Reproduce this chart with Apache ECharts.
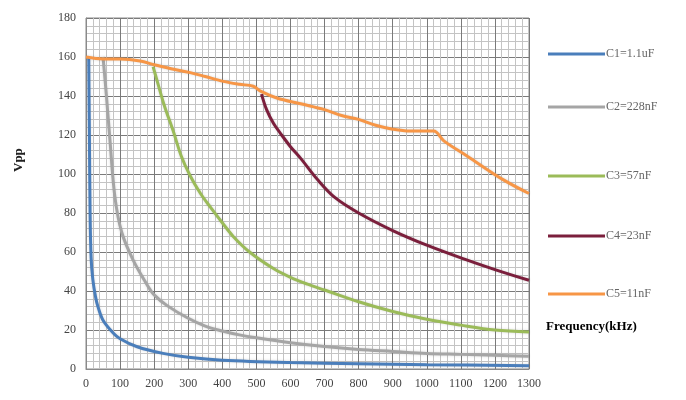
<!DOCTYPE html>
<html><head><meta charset="utf-8">
<script src="https://cdn.jsdelivr.net/npm/echarts@6/dist/echarts.min.js"></script>
<style>html,body{margin:0;padding:0;background:#fff}#c{width:686px;height:400px}</style>
</head><body><div id="c"></div>
<script>
const seriesNames = ["C1=1.1uF", "C2=228nF", "C3=57nF", "C4=23nF", "C5=11nF"];
const c1 = [[8,160],[10,120],[12,80],[15,57],[20,46],[28,37],[35,32],[50,25],[79,18.6],[100,15.5],[150,11.4],[226,8],[300,6],[400,4.5],[600,3.3],[800,2.7],[1000,2.2],[1300,1.7]];
const c2 = [[50,160],[60,140],[70,118],[85,88],[105,70],[138,56],[180,43],[200,38],[238,32.5],[300,26],[350,22],[400,19.5],[450,17.5],[500,16],[600,13.5],[700,11.5],[800,10],[900,9],[1000,8],[1100,7.5],[1200,7],[1300,6.5]];
const c3 = [[197,155],[210,147],[230,135],[256,122],[280,109],[306,99],[336,90],[365,83],[400,75],[432,68],[480,60],[550,51.5],[600,47],[650,43.5],[700,40.5],[800,34.5],[900,29.5],[1000,25.5],[1100,22.5],[1200,20],[1300,19]];
const c4 = [[515,141],[530,133],[550,126],[570,121],[600,114],[630,108],[680,97],[730,88],[800,80],[900,71],[1000,63.5],[1100,57],[1200,51],[1300,45.5]];
const c5 = [[0,160],[50,159],[100,159],[159,158],[200,156],[250,154],[306,152],[350,150],[403,147.5],[450,146],[491,145],[512,142.5],[560,139],[630,136],[700,133],[750,130],[800,128],[850,125],[900,123],[950,122],[1020,122],[1050,117],[1120,109],[1220,97.5],[1300,90]];
const xTicks = {min:0, max:1300, step:100};
const yTicks = {min:0, max:180, step:20};
const colors = ['#4a7ebb','#a5a5a5','#9bbb59','#7b1f3c','#f79646'];
const allData = [c1,c2,c3,c4,c5];
const legendTops = [43, 96, 165, 225, 283];
const serif = "'Liberation Serif', 'DejaVu Serif', serif";

const chart = echarts.init(document.getElementById('c'), null, {renderer:'canvas'});
chart.setOption({
  animation:false,
  backgroundColor:'#fff',
  grid:{left:86, right:157, top:18, bottom:31, show:true, borderColor:'#8a8a8a', borderWidth:1},
  xAxis:{type:'value', min:xTicks.min, max:xTicks.max, interval:xTicks.step,
    axisLine:{show:true, lineStyle:{color:'#8a8a8a'}}, axisTick:{show:false},
    axisLabel:{color:'#444', fontFamily:serif, fontSize:12, margin:9, formatter:v=>String(v)},
    splitLine:{show:true, lineStyle:{color:'#7a7a7a', width:1}},
    minorTick:{show:false, splitNumber:5},
    minorSplitLine:{show:true, lineStyle:{color:'#c4c4c4', width:1}}},
  yAxis:{type:'value', min:yTicks.min, max:yTicks.max, interval:yTicks.step,
    axisLine:{show:true, lineStyle:{color:'#8a8a8a'}}, axisTick:{show:false},
    axisLabel:{color:'#444', fontFamily:serif, fontSize:12, margin:10},
    splitLine:{show:true, lineStyle:{color:'#7a7a7a', width:1}},
    minorTick:{show:false, splitNumber:5},
    minorSplitLine:{show:true, lineStyle:{color:'#c4c4c4', width:1}}},
  legend: seriesNames.map((n,i)=>({data:[n], left:543, top:legendTops[i], icon:'rect', itemWidth:57, itemHeight:3, itemGap:0,
    textStyle:{fontFamily:serif, fontSize:12, color:'#666', padding:[0,0,0,-4]}})),
  graphic:[
    {type:'text', left:546, top:320, style:{text:'Frequency(kHz)', font:"bold 13px 'Liberation Serif'", fill:'#000'}},
    {type:'text', x:12, y:172, rotation:Math.PI/2, style:{text:'Vpp', font:"bold 13px 'Liberation Serif'", fill:'#222'}}
  ],
  series: allData.map((d,i)=>({name:seriesNames[i], type:'line', data:d, showSymbol:false, symbol:'none',
    smooth:0.35, color:colors[i],
    lineStyle:{width:3, color:colors[i], shadowColor:'rgba(0,0,0,0.15)', shadowBlur:3}}))
});
</script></body></html>
